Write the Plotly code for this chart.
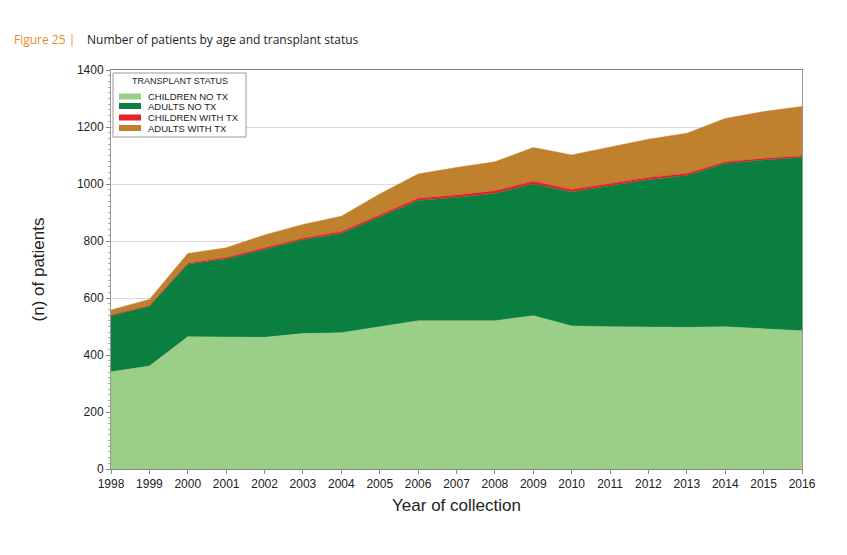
import plotly.graph_objects as go

years = list(range(1998, 2017))
children_no_tx = [341, 361, 464, 464, 462, 475, 478, 499, 520, 520, 520, 538, 502, 499, 497, 497, 499, 492, 485]
adults_no_tx = [197, 210, 254, 273, 308, 329, 348, 384, 422, 433, 447, 462, 470, 495, 518, 533, 573, 592, 608]
children_with_tx = [2, 2, 4, 5, 6, 6, 7, 8, 8, 8, 9, 10, 9, 8, 8, 7, 6, 6, 5]
adults_with_tx = [18, 22, 34, 34, 45, 48, 54, 74, 85, 97, 102, 118, 121, 127, 134, 141, 152, 164, 174]

series_names = ["CHILDREN NO TX", "ADULTS NO TX", "CHILDREN WITH TX", "ADULTS WITH TX"]
series_values = [children_no_tx, adults_no_tx, children_with_tx, adults_with_tx]
series_colors = ["#9BCF87", "#0B7F3F", "#E8202A", "#C0812F"]

FONT = "Liberation Sans, Arial, sans-serif"

fig = go.Figure()
for name, vals, col in zip(series_names, series_values, series_colors):
    fig.add_trace(go.Scatter(
        x=years, y=vals, name=name, stackgroup="one", mode="lines",
        line=dict(width=0.5, color=col), fillcolor=col, showlegend=False,
    ))

# figure is offset by the 8px page margin
W, H = 839, 547
L, T = 103, 62
PW, PH = 691, 399

def px(X):  # absolute page x -> paper
    return (X - 8 - L) / PW

def py(Y):  # absolute page y -> paper
    return (T + PH - (Y - 8)) / PH

axis_font = dict(family=FONT, size=12, color="#222")
fig.update_layout(
    width=W, height=H,
    margin=dict(l=L, r=W - L - PW, t=T, b=H - T - PH),
    paper_bgcolor="white", plot_bgcolor="white",
    showlegend=False,
    xaxis=dict(
        range=[1998, 2016], tickmode="array", tickvals=years,
        ticktext=[str(y) for y in years],
        tickfont=axis_font, ticks="outside", ticklen=4, tickcolor="#888",
        showline=True, linecolor="#888", linewidth=1, mirror=True,
        showgrid=False, zeroline=False,
        title=dict(text="Year of collection", font=dict(family=FONT, size=17, color="#222"), standoff=8),
    ),
    yaxis=dict(
        range=[0, 1400], tickmode="array", tickvals=[0, 200, 400, 600, 800, 1000, 1200, 1400],
        tickfont=axis_font, ticks="outside", ticklen=4, tickcolor="#888",
        showline=True, linecolor="#999", linewidth=1, mirror=True,
        showgrid=True, gridcolor="#d9d9d9", gridwidth=1, zeroline=False,
        minor=dict(dtick=20, ticks="outside", ticklen=2, tickcolor="#aaa", showgrid=False),
        title=dict(text="(n) of patients", font=dict(family=FONT, size=17, color="#222"), standoff=27),
    ),
)

# Legend box (drawn manually for compact spacing)
fig.add_shape(type="rect", xref="paper", yref="paper",
              x0=px(113), x1=px(246), y0=py(137), y1=py(73),
              line=dict(color="#9a9a9a", width=1), fillcolor="white", layer="above")
fig.add_annotation(xref="paper", yref="paper", x=(px(113) + px(246)) / 2, y=py(81),
                   text="TRANSPLANT STATUS", showarrow=False, xanchor="center", yanchor="middle",
                   font=dict(family=FONT, size=9, color="#222"))
item_y = [96.5, 106, 117.5, 128]
for name, col, yy in zip(series_names, series_colors, item_y):
    fig.add_shape(type="rect", xref="paper", yref="paper",
                  x0=px(119), x1=px(141), y0=py(yy + 3), y1=py(yy - 3),
                  line=dict(width=0), fillcolor=col, layer="above")
    fig.add_annotation(xref="paper", yref="paper", x=px(146), y=py(yy),
                       text=name, showarrow=False, xanchor="left", yanchor="middle",
                       font=dict(family=FONT, size=9.5, color="#222"))

# Title
fig.add_annotation(xref="paper", yref="paper", x=px(12), y=py(40), xanchor="left", yanchor="middle",
                   text="Figure 25 |", showarrow=False,
                   font=dict(family="Open Sans, sans-serif", size=12, color="#EE8A2C"))
fig.add_annotation(xref="paper", yref="paper", x=px(85), y=py(40), xanchor="left", yanchor="middle",
                   text="Number of patients by age and transplant status", showarrow=False,
                   font=dict(family="Open Sans, sans-serif", size=12, color="#222"))

fig.write_html("out.html")
